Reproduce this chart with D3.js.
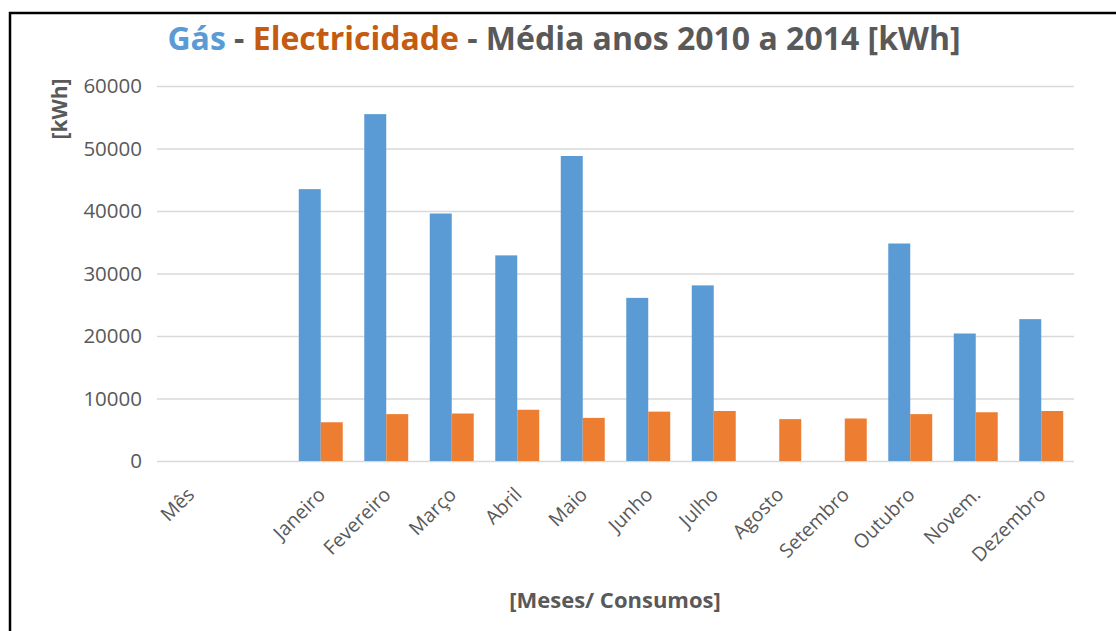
<!DOCTYPE html>
<html>
<head>
<meta charset="utf-8">
<script src="https://cdn.jsdelivr.net/npm/d3@7"></script>
<style>
  html, body { margin: 0; padding: 0; background: #fff; }
  svg { display: block; }
</style>
</head>
<body>
<svg id="chart" width="1116" height="631"></svg>
<script>
// Monthly averages 2010–2014 (kWh)
const categories = ["Mês", "", "Janeiro", "Fevereiro", "Março", "Abril", "Maio", "Junho",
                    "Julho", "Agosto", "Setembro", "Outubro", "Novem.", "Dezembro"];
const gas  = [null, null, 43500, 55500, 39600, 32900, 48800, 26100, 28100, null, null, 34800, 20400, 22700];
const elec = [null, null, 6200, 7500, 7600, 8200, 6900, 7900, 8000, 6700, 6800, 7500, 7800, 8000];
const seriesNames = ["Gás", "Electricidade"];
const yTicks = [0, 10000, 20000, 30000, 40000, 50000, 60000];

const colors = { "Gás": "#5B9BD5", "Electricidade": "#ED7D31" };
const textGray = "#595959";
const font = "'Open Sans', 'Noto Sans', sans-serif";

const svg = d3.select("#chart");
const plot = { left: 157, right: 1074, top: 86, bottom: 461 };

const rows = categories.map((c, i) => ({ cat: c, "Gás": gas[i], "Electricidade": elec[i] }));

const x0 = d3.scaleBand().domain(categories).range([plot.left, plot.right]).padding(0);
const x1 = d3.scaleBand().domain(seriesNames).range([0, x0.bandwidth()])
  .paddingInner(0).paddingOuter(0.49);
const y = d3.scaleLinear().domain([0, 60000]).range([plot.bottom, plot.top]);

// outer frame (top and left edges)
svg.append("path")
  .attr("d", `M10,631 V13 H1116`)
  .attr("fill", "none").attr("stroke", "#000").attr("stroke-width", 2.5);

// y axis with gridlines
const yAxis = svg.append("g")
  .attr("transform", `translate(${plot.left},0)`)
  .call(d3.axisLeft(y).tickValues(yTicks).tickFormat(d3.format("d"))
        .tickSize(-(plot.right - plot.left)).tickPadding(15));
yAxis.select(".domain").remove();
yAxis.selectAll("line").attr("stroke", "#D9D9D9").attr("stroke-width", 1.5);
yAxis.selectAll("text").attr("fill", textGray).style("font-family", font).style("font-size", "20.5px");

// bars
const groups = svg.append("g").selectAll("g").data(rows).join("g")
  .attr("transform", d => `translate(${x0(d.cat)},0)`);
groups.selectAll("rect")
  .data(d => seriesNames.filter(s => d[s] != null).map(s => ({ key: s, value: d[s] })))
  .join("rect")
  .attr("x", d => x1(d.key))
  .attr("width", x1.bandwidth())
  .attr("y", d => y(d.value))
  .attr("height", d => y(0) - y(d.value))
  .attr("fill", d => colors[d.key]);

// x axis labels (rotated)
const xAxis = svg.append("g")
  .attr("transform", `translate(0,${plot.bottom})`)
  .call(d3.axisBottom(x0).tickSize(0));
xAxis.select(".domain").remove();
xAxis.selectAll("text")
  .attr("fill", textGray).style("font-family", font).style("font-size", "19.5px")
  .attr("text-anchor", "end")
  .attr("x", 0).attr("y", 0).attr("dy", "0.35em")
  .attr("transform", "translate(1,30) rotate(-45)");

// axis titles
svg.append("text")
  .attr("transform", "translate(67,109) rotate(-90)")
  .attr("text-anchor", "middle")
  .attr("fill", textGray).style("font-family", font).style("font-size", "21px").style("font-weight", 700)
  .text("[kWh]");

svg.append("text")
  .attr("x", 615).attr("y", 608)
  .attr("text-anchor", "middle")
  .attr("fill", textGray).style("font-family", font).style("font-size", "22px").style("font-weight", 700)
  .text("[Meses/ Consumos]");

// title
const title = svg.append("text")
  .attr("x", 564).attr("y", 50)
  .attr("text-anchor", "middle")
  .style("font-family", font).style("font-weight", 700).style("font-size", "32px");
title.append("tspan").attr("fill", "#5B9BD5").text("Gás");
title.append("tspan").attr("fill", textGray).text(" - ");
title.append("tspan").attr("fill", "#C55A11").text("Electricidade");
title.append("tspan").attr("fill", textGray).text(" - Média anos 2010 a 2014 [kWh]");
</script>
</body>
</html>
